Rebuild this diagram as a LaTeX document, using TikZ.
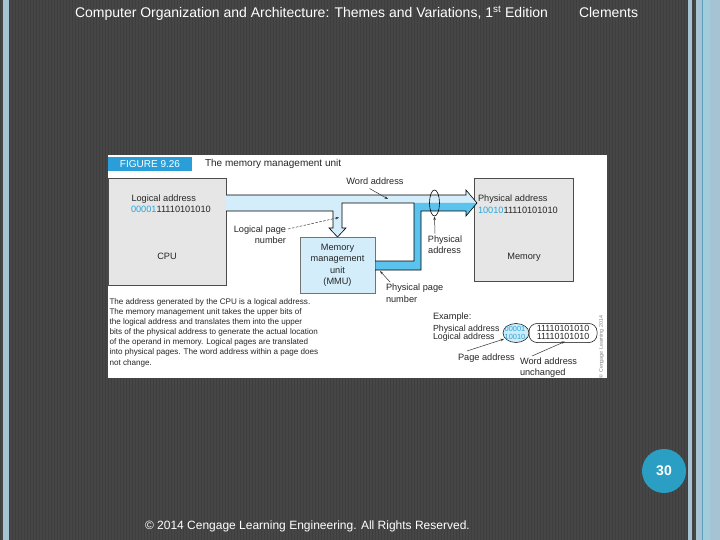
\documentclass[tikz,border=0pt]{standalone}
\usepackage{fontspec}
\setmainfont{Liberation Sans}
\usetikzlibrary{arrows.meta}
\definecolor{bg}{HTML}{464646}
\definecolor{stripe}{HTML}{3E3E3E}
\definecolor{sideblue}{HTML}{A6C3D3}
\definecolor{sideline}{HTML}{5E9CB7}
\definecolor{sidelight}{HTML}{A0CCDC}
\definecolor{hdrblue}{HTML}{2A9ED8}
\definecolor{boxgray}{HTML}{E6E6E6}
\definecolor{buslight}{HTML}{D3EDFA}
\definecolor{busdark}{HTML}{5CC3EE}
\definecolor{tblue}{HTML}{2AA5DD}
\definecolor{circblue}{HTML}{2B9FC3}
\definecolor{figtext}{HTML}{262626}
\definecolor{ellfill}{HTML}{CDEBF8}
\newcommand\ff[1]{\fontsize{#1}{#1}\selectfont}
\begin{document}
\begin{tikzpicture}[x=1pt,y=-1pt,
  every node/.style={inner sep=0pt,outer sep=0pt},
  ftxt/.style={text=figtext,font=\ff{9.2}},
  wtxt/.style={text=white},
  cpubox/.style={draw=black!70,line width=0.6pt,fill=boxgray},
  mmubox/.style={draw=black!55,line width=0.6pt,fill=buslight},
  busline/.style={draw=black,line width=0.6pt,line join=miter},
  leader/.style={draw=black!80,line width=0.5pt,-{Stealth[length=3.5pt,width=2.6pt]}}]
\useasboundingbox (0,0) rectangle (720,540);
% background
\fill[bg] (0,0) rectangle (720,540);
\foreach \i in {0,3,...,717} \fill[stripe] (\i,0) rectangle (\i+1.2,540);
\fill[sideblue] (3,0) rectangle (9,540);
\fill[sideblue] (688,0) rectangle (692,540);
\fill[sideblue] (696,0) rectangle (720,540);
\fill[sidelight] (703,0) rectangle (710,540);
\fill[sideline] (702,0) rectangle (703.2,540);
% header and footer
\node[wtxt,anchor=base west,font=\ff{14}] (title) at (75,17.5) {Computer Organization and Architecture: Themes and Variations, 1\textsuperscript{st} Edition};
\node[wtxt,anchor=base west,font=\ff{14}] (author) at (579,17.5) {Clements};
\node[wtxt,anchor=base west,font=\ff{12}] (foot) at (145,529.5) {© 2014 Cengage Learning Engineering. All Rights Reserved.};
\node[circle,fill=circblue,minimum size=44pt] (pg) at (664,471) {};
\node[wtxt,font=\bfseries\ff{14}] (pgnum) at (pg.center) {30};
% figure panel
\fill[white] (108,155) rectangle (607,378);
\node[fill=hdrblue,minimum width=84pt,minimum height=14pt,anchor=north west] (hdr) at (108,157) {};
\node[wtxt,font=\ff{10}] (hdrtxt) at (150,164.3) {FIGURE 9.26};
\node[ftxt,font=\ff{10},anchor=west] (cap) at (205,164) {The memory management unit};
% boxes
\node[cpubox,minimum width=118pt,minimum height=107pt,anchor=north west] (cpu) at (108,178) {};
\node[cpubox,minimum width=99pt,minimum height=103pt,anchor=north west] (mem) at (474,178) {};
% buses
\fill[buslight] (226,195) -- (466,195) -- (466,203) -- (342,203) -- (342,228) -- (346,228) -- (337.5,237) -- (329,228) -- (333,228) -- (333,211) -- (226,211) -- cycle;
\fill[buslight] (466,190) -- (477,203) -- (466,203) -- cycle;
\fill[busdark] (375,261) -- (414,261) -- (414,203) -- (466,203) -- (466,211) -- (421,211) -- (421,270) -- (375,270) -- cycle;
\fill[busdark] (466,203) -- (477,203) -- (466,216) -- cycle;
\node[mmubox,minimum width=75pt,minimum height=56pt,anchor=north west] (mmu) at (300,237) {};
\draw[busline] (cpu.north east |- 0,195) -- (466,195) -- (466,190) -- (477,203) -- (466,216) -- (466,211) -- (421,211) -- (421,270) -- (mmu.east |- 0,270);
\draw[busline] (mmu.east |- 0,261) -- (414,261) -- (414,203) -- (342,203) -- (342,228) -- (346,228) -- (mmu.north -| 337.5,0) -- (329,228) -- (333,228) -- (333,211) -- (cpu.east |- 0,211);
\draw[line width=0.6pt] (434.5,203) ellipse [x radius=5, y radius=13];
% box texts
\node[ftxt,anchor=base west] (lat) at (131.5,201.5) {Logical address};
\node[ftxt,anchor=base west] (lab) at (131,212.6) {{\color{tblue}00001}11110101010};
\node[ftxt,anchor=base] (cpul) at (167,259.5) {CPU};
\node[ftxt,anchor=base west] (pat) at (478,201.6) {Physical address};
\node[ftxt,anchor=base west] (pab) at (478,213.3) {{\color{tblue}10010}11110101010};
\node[ftxt,anchor=base] (meml) at (524,259.3) {Memory};
\node[ftxt,anchor=base] (m1) at (337.5,250.3) {Memory};
\node[ftxt,anchor=base] (m2) at (337.5,261.6) {management};
\node[ftxt,anchor=base] (m3) at (337.5,273) {unit};
\node[ftxt,anchor=base] (m4) at (337.5,284.6) {(MMU)};
% labels
\node[ftxt,anchor=base] (wa) at (375,184.5) {Word address};
\coordinate (waf) at (369.5,188.5);
\coordinate (wat) at (388,199);
\draw[leader] (waf) -- (wat);
\node[ftxt,anchor=base east] (lp1) at (286,232.3) {Logical page};
\node[ftxt,anchor=base east] (lp2) at (286,243.3) {number};
\coordinate (lpt) at (339,217.5);
\draw[leader,dashed,dash pattern=on 2.5pt off 1.5pt] (lp1.east |- 0,229) ++(2,0) -- (lpt);
\node[ftxt,anchor=base] (pa1) at (445,242.5) {Physical};
\node[ftxt,anchor=base] (pa2) at (444.5,253.3) {address};
\coordinate (pat2) at (434.5,216.5);
\draw[leader] (435,233.5) -- (pat2);
\node[ftxt,anchor=base west] (pp1) at (386,290.6) {Physical page};
\node[ftxt,anchor=base west] (pp2) at (386,302.4) {number};
\coordinate (ppt) at (380,271);
\draw[leader] (390,282) -- (ppt);
% description
\node[text=figtext,font=\fontsize{8.1}{10.15}\selectfont,align=left,anchor=north west] (desc) at (109.5,298.3)
  {The address generated by the CPU is a logical address.\\
   The memory management unit takes the upper bits of\\
   the logical address and translates them into the upper\\
   bits of the physical address to generate the actual location\\
   of the operand in memory. Logical pages are translated\\
   into physical pages. The word address within a page does\\
   not change.};
% example
\node[ftxt,anchor=base west] (ex) at (433,319.3) {Example:};
\draw[line width=0.5pt,fill=ellfill] (516,333) ellipse [x radius=13, y radius=9.5];
\draw[line width=0.5pt,rounded corners=8pt] (529,323.5) rectangle (597,342.5);
\node[ftxt,font=\ff{8.8},anchor=base west] (phy) at (433,331.3) {Physical address};
\node[ftxt,font=\ff{8.8},anchor=base west] (log) at (433,339.6) {Logical address};
\node[ftxt,font=\ff{7.4},text=tblue,anchor=base] (pg1) at (515,331.1) {00001};
\node[ftxt,font=\ff{7.4},text=tblue,anchor=base] (pg2) at (515,339.4) {10010};
\node[ftxt,font=\ff{8.9},anchor=base] (wd1) at (563,331.3) {11110101010};
\node[ftxt,font=\ff{8.9},anchor=base] (wd2) at (563,339.6) {11110101010};
\node[ftxt,anchor=base west] (pgad) at (458,360.3) {Page address};
\node[ftxt,anchor=base west] (wa1) at (520,364.3) {Word address};
\node[ftxt,anchor=base west] (wa2) at (520,375.8) {unchanged};
\coordinate (pgt) at (504,339);
\coordinate (wdt) at (565,341.5);
\draw[leader] (467,351) -- (pgt);
\draw[leader] (532,356) -- (wdt);
\node[rotate=90,text=black!50,font=\ff{5.3}] (copy) at (601.5,347) {© Cengage Learning 2014};
\end{tikzpicture}
\end{document}
